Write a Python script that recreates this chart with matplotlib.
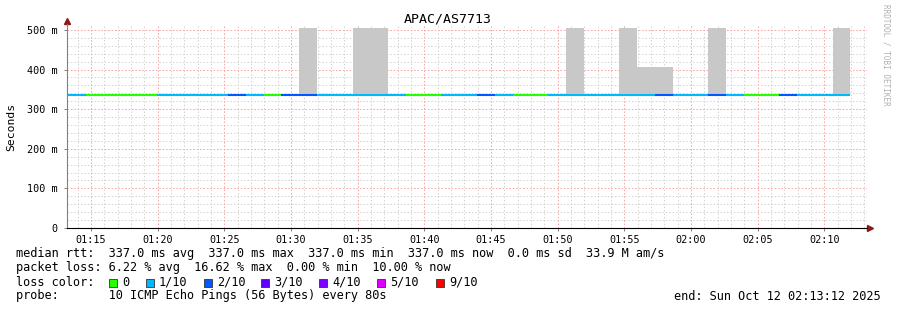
import matplotlib
matplotlib.use('Agg')
import matplotlib.pyplot as plt
from matplotlib.patches import Rectangle

# graph window: 01:13:12 .. 02:13:12, one step = 80 s
start_clock = '01:13:12'
window_sec = 3600
step_sec = 80
first_step_end = '01:14:37'

# loss per step, in tenths (0 -> 0/10, 1 -> 1/10, 2 -> 2/10 ...)
loss = [1, 0, 0, 0, 0, 1, 1, 1, 1, 2, 1, 0, 2, 2, 1, 1, 1, 1, 1, 0, 0, 1,
        1, 2, 1, 0, 0, 1, 1, 1, 1, 1, 1, 2, 1, 1, 2, 1, 0, 0, 2, 1, 1, 1]
median_ms = [337.0] * len(loss)
# upper edge of the smoke per step (ms), equal to median where there is none
smoke_top = [337, 337, 337, 337, 337, 337, 337, 337, 337, 337, 337, 337,
             337, 506, 337, 337, 506, 506, 337, 337, 337, 337, 337, 337,
             337, 337, 337, 337, 506, 337, 337, 506, 406, 406, 337, 337,
             506, 337, 337, 337, 337, 337, 337, 506]

tick_labels = ['01:15', '01:20', '01:25', '01:30', '01:35', '01:40',
               '01:45', '01:50', '01:55', '02:00', '02:05', '02:10']
ytick_vals = [0, 100, 200, 300, 400, 500]
ytick_labels = ['0', '100 m', '200 m', '300 m', '400 m', '500 m']

loss_names = ['0', '1/10', '2/10', '3/10', '4/10', '5/10', '9/10']
loss_colors = ['#26ff00', '#00b8ff', '#0059ff', '#5e00ff', '#7e00ff',
               '#dd00ff', '#ff0000']

title = 'APAC/AS7713'
legend_rtt = ('median rtt:  337.0 ms avg  337.0 ms max  337.0 ms min  '
              '337.0 ms now  0.0 ms sd  33.9 M am/s')
legend_loss = 'packet loss: 6.22 % avg  16.62 % max  0.00 % min  10.00 % now'
legend_probe = 'probe:       10 ICMP Echo Pings (56 Bytes) every 80s'
legend_end = 'end: Sun Oct 12 02:13:12 2025'


def clock2sec(s):
    parts = [int(p) for p in s.split(':')]
    while len(parts) < 3:
        parts.append(0)
    return parts[0] * 3600 + parts[1] * 60 + parts[2]


t0 = clock2sec(start_clock)
ends = [clock2sec(first_step_end) - t0 + step_sec * i for i in range(len(loss))]
starts = [max(0, e - step_sec) for e in ends]

W, H = 897, 310
fig = plt.figure(figsize=(W / 100, H / 100), dpi=100)
fig.patch.set_facecolor('white')
ax = fig.add_axes([67 / W, (H - 228) / H, 800 / W, (228 - 26) / H])
ax.set_xlim(0, window_sec)
ax.set_ylim(0, 510)

mono = 'DejaVu Sans Mono'

# grid
grid_minor = '#d2d2d2'
grid_major = '#ffa8a8'
dash = (0, (1.4, 2.0))
first_min = 60 - (t0 % 60)
for t in range(first_min, window_sec, 60):
    ax.axvline(t, color=grid_minor, lw=0.72, ls=dash, zorder=0)
for y in range(20, 510, 20):
    ax.axhline(y, color=grid_minor, lw=0.72, ls=dash, zorder=0)
xticks = [clock2sec(s + ':00') - t0 for s in tick_labels]
for t in xticks:
    ax.axvline(t, color=grid_major, lw=0.72, ls=dash, zorder=0.5)
for y in ytick_vals[1:]:
    ax.axhline(y, color=grid_major, lw=0.72, ls=dash, zorder=0.5)

# smoke
for s, e, m, top in zip(starts, ends, median_ms, smoke_top):
    if top > m:
        ax.bar(s, top - m, bottom=m, width=e - s, align='edge',
               color='#c8c8c8', linewidth=0, zorder=1)

# median line coloured by loss
ax.hlines(median_ms, starts, ends, colors=[loss_colors[l] for l in loss],
          linewidth=1.5, zorder=3)

# axes
for side in ['top', 'right']:
    ax.spines[side].set_visible(False)
ax.spines['left'].set_color('#808080')
ax.spines['bottom'].set_color('black')
ax.spines['left'].set_bounds(0, 516)
ax.plot([1.0, 1.004], [0, 0], transform=ax.transAxes, color='black',
        lw=0.9, clip_on=False)
ax.plot([1.004], [0], marker='>', color='#8b1a1a', markersize=4,
        transform=ax.transAxes, clip_on=False)
ax.plot([0], [522], marker='^', color='#8b1a1a', markersize=4, clip_on=False)

ax.set_xticks(xticks)
ax.set_xticklabels(tick_labels, family=mono, fontsize=7.3)
ax.set_yticks(ytick_vals)
ax.set_yticklabels(ytick_labels, family=mono, fontsize=7.3)
ax.tick_params(axis='both', length=2, width=0.7, color='#808080', pad=3)
ax.tick_params(axis='y', pad=5)

fig.text(448 / W, 1 - 19 / H, title, family=mono, fontsize=9.5,
         ha='center', va='center')
fig.text(11 / W, 1 - 127 / H, 'Seconds', family=mono, fontsize=8.2,
         rotation=90, ha='center', va='center')
fig.text(886 / W, 1 - 4 / H, 'RRDTOOL / TOBI OETIKER', family=mono,
         fontsize=5.5, rotation=-90, ha='center', va='top', color='#b0b0b0')

fs = 8.55
fig.text(16 / W, 1 - 254 / H, legend_rtt, family=mono, fontsize=fs, va='center')
fig.text(16 / W, 1 - 268 / H, legend_loss, family=mono, fontsize=fs, va='center')
fig.text(16 / W, 1 - 282 / H, 'loss color:', family=mono, fontsize=fs, va='center')
box_x = [109, 146, 204, 261, 319, 377, 436]
for bx, name, col in zip(box_x, loss_names, loss_colors):
    fig.patches.append(Rectangle((bx / W, 1 - 287 / H), 8 / W, 8 / H,
                                 transform=fig.transFigure, facecolor=col,
                                 edgecolor='#333333', linewidth=0.6))
    fig.text((bx + 13) / W, 1 - 282 / H, name, family=mono, fontsize=fs,
             va='center')
fig.text(16 / W, 1 - 296 / H, legend_probe, family=mono, fontsize=fs, va='center')
fig.text(881 / W, 1 - 296 / H, legend_end, family=mono, fontsize=fs,
         va='center', ha='right')

fig.savefig('out.png', dpi=100)
